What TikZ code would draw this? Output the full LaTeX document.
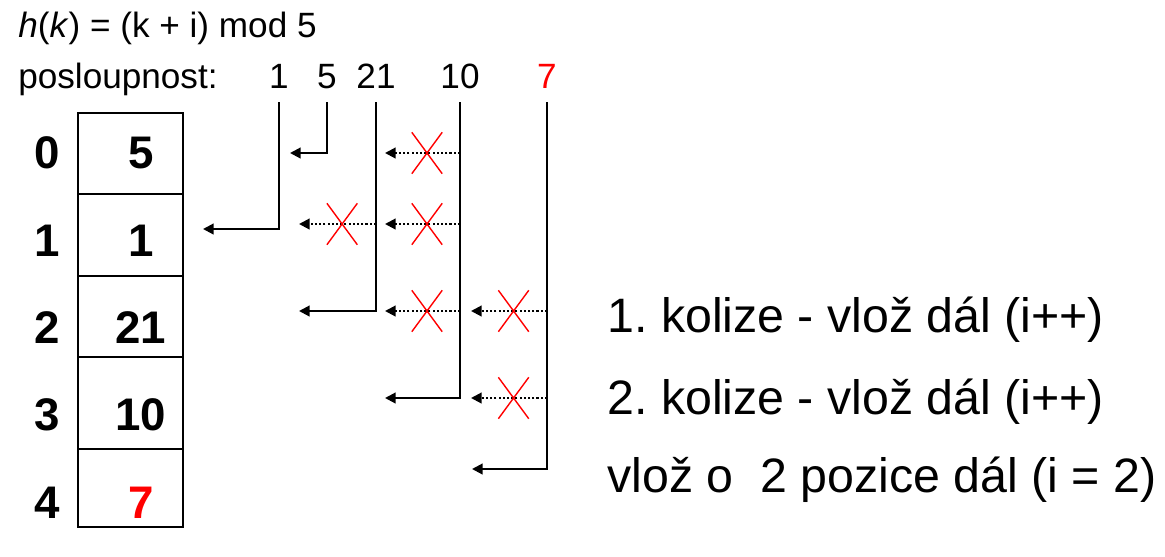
\documentclass[tikz,border=0pt]{standalone}
\usepackage{fontspec}
\setmainfont{Liberation Sans}
\usetikzlibrary{arrows.meta,shapes.misc}
\definecolor{hitred}{HTML}{FF0000}
\frenchspacing

\tikzset{
  conn/.style={draw, line width=1.2pt, -{Triangle[length=6pt,width=6pt]}},
  tried/.style={conn, dash pattern=on 1.2pt off 1.2pt},
  xmark/.style={draw=hitred, solid, cross out, line width=0.8pt, minimum width=0.58cm, minimum height=0.8cm, inner sep=0pt},
  seqnum/.style={anchor=base, font=\fontsize{20}{24}\selectfont, inner sep=0pt},
  idx/.style={anchor=base, font=\fontsize{26}{30}\selectfont\bfseries, inner sep=0pt},
  note/.style={anchor=base west, font=\fontsize{27.5}{32}\selectfont, inner sep=0pt},
}

\begin{document}
\begin{tikzpicture}[x=0.02cm, y=-0.02cm]
  \useasboundingbox (0,0) rectangle (1165,556);
  % header and input sequence
  \node[seqnum, anchor=base west] (hash) at (18,37) {\textit{h}(\textit{k}) = (k + i) mod 5};
  \node[seqnum, anchor=base west] (seq) at (18,88) {posloupnost:};
  \node[seqnum] (n1) at (279,88) {1};
  \node[seqnum] (n5) at (327,88) {5};
  \node[seqnum] (n21) at (376,88) {21};
  \node[seqnum] (n10) at (460,88) {10};
  \node[seqnum, text=hitred] (n7) at (547,88) {7};

  % hash table
  \foreach \i/\top/\bot/\base/\val in {0/113/194/168/5, 1/194/276/256/1, 2/276/357/343/21,
      3/357/449/430/10, 4/449/527/518/{\textcolor{hitred}{7}}} {
    \draw[line width=1.2pt] (78,\top) rectangle (183,\bot);
    \node[idx] (i\i) at (47,\base) {\i};
    \node[idx] (v\i) at (141,\base) {\val};
  }

  % where each key lands
  \coordinate (t1) at (203,229);
  \coordinate (t5) at (290,153);
  \coordinate (t21) at (299,311);
  \coordinate (t10) at (385,398);
  \coordinate (t7) at (472,469);
  \draw[conn] (n1.base) ++(0,14) |- (t1);
  \draw[conn] (n5.base) ++(0,14) |- (t5);
  \draw[conn] (n21.base) ++(0,14) |- (t21);
  \draw[conn] (n10.base) ++(0,14) |- (t10);
  \draw[conn] (n7.base) ++(0,14) |- (t7);

  % collisions
  \coordinate (k21a) at (299,224);
  \coordinate (k10a) at (385,153);
  \coordinate (k10b) at (385,224);
  \coordinate (k10c) at (385,311);
  \coordinate (k7a) at (471,311);
  \coordinate (k7b) at (471,398);
  \draw[tried] (n21 |- k21a) -- node[xmark, pos=0.44] (x21a) {} (k21a);
  \draw[tried] (n10 |- k10a) -- node[xmark, pos=0.44] (x10a) {} (k10a);
  \draw[tried] (n10 |- k10b) -- node[xmark, pos=0.44] (x10b) {} (k10b);
  \draw[tried] (n10 |- k10c) -- node[xmark, pos=0.44] (x10c) {} (k10c);
  \draw[tried] (n7 |- k7a) -- node[xmark, pos=0.44] (x7a) {} (k7a);
  \draw[tried] (n7 |- k7b) -- node[xmark, pos=0.44] (x7b) {} (k7b);

  % notes
  \node[note] (c1) at (607,332) {1. kolize - vlož dál (i++)};
  \node[note] (c2) at (607,414) {2. kolize - vlož dál (i++)};
  \node[note] (c3) at (607,492) {vlož o\ \ 2 pozice dál (i = 2)};
\end{tikzpicture}
\end{document}
